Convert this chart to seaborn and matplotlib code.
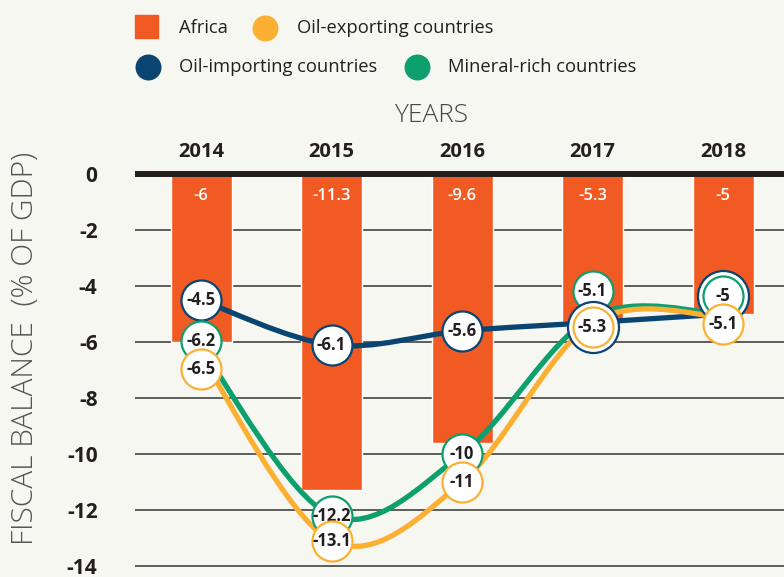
import numpy as np
import matplotlib.pyplot as plt
from matplotlib.path import Path
from matplotlib.patches import PathPatch, Rectangle
import seaborn as sns
import pandas as pd

# values (fiscal balance, % of GDP)
years = ["2014", "2015", "2016", "2017", "2018"]
africa = [-6.0, -11.3, -9.6, -5.3, -5.0]
oil_exporting = [-6.5, -13.1, -11.0, -5.3, -5.1]
oil_importing = [-4.5, -6.1, -5.6, -5.3, -5.0]
mineral_rich = [-6.2, -12.2, -10.0, -5.1, -5.0]
y_ticks = [0, -2, -4, -6, -8, -10, -12, -14]

ORANGE = "#f15a22"
YELLOW = "#fbb034"
NAVY = "#0a4470"
GREEN = "#0e9f6e"
INK = "#231f20"
BG = "#f7f7f2"

# how far each value bubble is pushed off its line so they don't pile up
bubble_nudge = {
    "Oil-importing countries": [0, 0, 0, -0.16, 0.64],
    "Mineral-rich countries": [0.24, 0, 0, 0.92, 0.64],
    "Oil-exporting countries": [-0.46, 0, 0, -0.16, -0.26],
}
# bigger navy bubbles where they wrap around another bubble
bubble_size = {
    "Oil-importing countries": [830, 830, 830, 1350, 1350],
    "Mineral-rich countries": [830] * 5,
    "Oil-exporting countries": [830] * 5,
}
bubble_z = {
    "Oil-importing countries": [4, 4, 4, 5.5, 4],
    "Mineral-rich countries": [5, 5, 5, 5, 5],
    "Oil-exporting countries": [6, 6, 6, 6, 6],
}

series = [
    ("Oil-importing countries", oil_importing, NAVY),
    ("Mineral-rich countries", mineral_rich, GREEN),
    ("Oil-exporting countries", oil_exporting, YELLOW),
]

sns.set_theme(style="white")
plt.rcParams["font.family"] = ["Open Sans", "DejaVu Sans"]


# Catmull-Rom curve through the points, as bezier segments
def smooth_path(xs, ys):
    pts = np.column_stack([xs, ys]).astype(float)
    n = len(pts)
    verts = [pts[0]]
    codes = [Path.MOVETO]
    for i in range(n - 1):
        p0 = pts[max(i - 1, 0)]
        p1 = pts[i]
        p2 = pts[i + 1]
        p3 = pts[min(i + 2, n - 1)]
        verts += [p1 + (p2 - p0) / 6, p2 - (p3 - p1) / 6, p2]
        codes += [Path.CURVE4] * 3
    return Path(verts, codes)


fig = plt.figure(figsize=(7.84, 5.77), dpi=100)
fig.patch.set_facecolor(BG)
ax = fig.add_axes([135 / 784, 0, 649 / 784, 408.5 / 577])
ax.set_facecolor(BG)

df = pd.DataFrame({"year": years, "balance": africa})
sns.barplot(data=df, x="year", y="balance", color=ORANGE, saturation=1,
            width=0.467, ax=ax, zorder=2)

for yv in y_ticks[1:]:
    ax.axhline(yv, color="#333333", lw=1.1, zorder=1)
ax.axhline(0, color=INK, lw=4.3, zorder=3)

xs = np.arange(len(years))
for name, vals, col in series:
    ax.add_patch(PathPatch(smooth_path(xs, vals), fill=False, edgecolor=col,
                           lw=3.8, capstyle="round", zorder=3.5))

for name, vals, col in series:
    for i, v in enumerate(vals):
        yb = v + bubble_nudge[name][i]
        z = bubble_z[name][i]
        ax.scatter([i], [yb], s=bubble_size[name][i], color="white",
                   edgecolor=col, linewidth=1.6, zorder=z)
        ax.text(i, yb, f"{v:g}", ha="center", va="center", fontsize=12,
                fontweight="bold", color=INK, zorder=z + 0.1)

for i, v in enumerate(africa):
    ax.text(i, -0.78, f"{v:g}", ha="center", va="center", fontsize=12,
            fontweight="semibold", color="white", zorder=3)

ax.set_xlim(-0.506, 4.467)
ax.set_ylim(-14.39, 0.2)
ax.set_yticks(y_ticks)
ax.set_yticklabels([str(t) for t in y_ticks], fontsize=15, fontweight="bold",
                   color=INK)
ax.xaxis.tick_top()
ax.set_xticks(xs)
ax.set_xticklabels(years, fontsize=14.5, fontweight="bold", color=INK)
ax.tick_params(axis="y", length=0, pad=27)
ax.tick_params(axis="x", length=0, pad=5)
ax.set_xlabel("")
ax.set_ylabel("")
for sp in ax.spines.values():
    sp.set_visible(False)

fig.text(431 / 784, 1 - 115 / 577, "YEARS", ha="center", va="center",
         fontsize=19, fontweight="light", color="#444444")
fig.text(25 / 784, 1 - 348 / 577, "FISCAL BALANCE  (% OF GDP)", ha="center",
         va="center", rotation=90, fontsize=21.5, fontweight="light",
         color="#555555")

# legend, drawn in pixel coordinates on an overlay
lg = fig.add_axes([0, 0, 1, 1], zorder=-1)
lg.set_xlim(0, 784)
lg.set_ylim(577, 0)
lg.axis("off")
lg.add_patch(Rectangle((135, 15), 23, 23, color=ORANGE))
legend_dots = [(265, 28, YELLOW), (148, 67, NAVY), (417, 67, GREEN)]
for lx, ly, col in legend_dots:
    lg.scatter([lx], [ly], s=350, color=col, linewidth=0)
legend_texts = [(179, 28, "Africa"), (297, 28, "Oil-exporting countries"),
                (179, 67, "Oil-importing countries"),
                (448, 67, "Mineral-rich countries")]
for lx, ly, txt in legend_texts:
    lg.text(lx, ly, txt, ha="left", va="center", fontsize=13.2, color=INK)

fig.savefig("out.png", dpi=100, facecolor=BG)
